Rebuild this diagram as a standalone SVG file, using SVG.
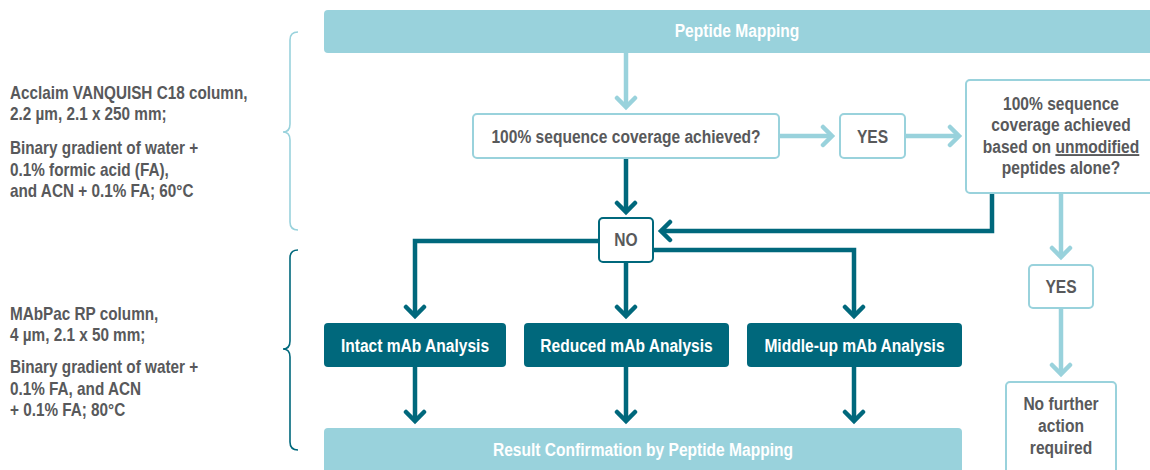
<svg xmlns="http://www.w3.org/2000/svg" width="1150" height="470" viewBox="0 0 1150 470">
<style>
text{font-family:"Liberation Sans",Arial,sans-serif;font-weight:bold;}
.side{font-size:18px;fill:#58595B;}
.lbl{font-size:19px;fill:#58595B;text-anchor:middle;}
.wlbl{font-size:19px;fill:#FFFFFF;text-anchor:middle;}
.bar{fill:#99D2DC;}
.dark{fill:#00687C;}
.qbox{fill:#FFFFFF;stroke:#99D2DC;stroke-width:2;}
.nobox{fill:#FFFFFF;stroke:#00687C;stroke-width:2;}
.cl{fill:none;stroke:#99D2DC;stroke-width:4.5;}
.cd{fill:none;stroke:#00687C;stroke-width:4.5;}
.brace-l{fill:none;stroke:#99D2DC;stroke-width:1.6;}
.brace-d{fill:none;stroke:#00687C;stroke-width:1.6;}
</style>
<defs>
<marker id="ahL" viewBox="-12 -12 16 24" markerWidth="16" markerHeight="24" refX="0" refY="0" orient="auto" markerUnits="userSpaceOnUse">
<path d="M-9,-9 L0,0 L-9,9" fill="none" stroke="#99D2DC" stroke-width="4.5" stroke-linecap="round"/>
</marker>
<marker id="ahD" viewBox="-12 -12 16 24" markerWidth="16" markerHeight="24" refX="0" refY="0" orient="auto" markerUnits="userSpaceOnUse">
<path d="M-9,-9 L0,0 L-9,9" fill="none" stroke="#00687C" stroke-width="4.5" stroke-linecap="round"/>
</marker>
</defs>

<g id="side-text-top">
<text class="side" transform="translate(10,99) scale(0.85,1)">Acclaim VANQUISH C18 column,</text>
<text class="side" transform="translate(10,120) scale(0.85,1)">2.2 µm, 2.1 x 250 mm;</text>
<text class="side" transform="translate(10,154) scale(0.85,1)">Binary gradient of water +</text>
<text class="side" transform="translate(10,176) scale(0.85,1)">0.1% formic acid (FA),</text>
<text class="side" transform="translate(10,197) scale(0.85,1)">and ACN + 0.1% FA; 60°C</text>
<path class="brace-l" d="M298,32 Q290,32 290,40 L290,124 Q290,132 283,132 Q290,132 290,140 L290,222 Q290,230 298,230"/>
</g>

<g id="side-text-bottom">
<text class="side" transform="translate(10,320) scale(0.85,1)">MAbPac RP column,</text>
<text class="side" transform="translate(10,341) scale(0.85,1)">4 µm, 2.1 x 50 mm;</text>
<text class="side" transform="translate(10,373) scale(0.85,1)">Binary gradient of water +</text>
<text class="side" transform="translate(10,395) scale(0.85,1)">0.1% FA, and ACN</text>
<text class="side" transform="translate(10,416) scale(0.85,1)">+ 0.1% FA; 80°C</text>
<path class="brace-d" d="M298,250 Q290,250 290,258 L290,341 Q290,349 283,349 Q290,349 290,357 L290,442 Q290,450 298,450"/>
</g>

<g id="connectors">
<line class="cl" x1="626" y1="53" x2="626" y2="107" marker-end="url(#ahL)"/>
<line class="cl" x1="779" y1="136" x2="832" y2="136" marker-end="url(#ahL)"/>
<line class="cl" x1="905" y1="136" x2="959" y2="136" marker-end="url(#ahL)"/>
<line class="cl" x1="1061" y1="193" x2="1061" y2="257" marker-end="url(#ahL)"/>
<line class="cl" x1="1061" y1="308" x2="1061" y2="374" marker-end="url(#ahL)"/>
<line class="cd" x1="626" y1="158" x2="626" y2="212" marker-end="url(#ahD)"/>
<polyline class="cd" points="992,193 992,231 661,231" marker-end="url(#ahD)"/>
<polyline class="cd" points="599,241 415,241 415,316" marker-end="url(#ahD)"/>
<line class="cd" x1="626" y1="262" x2="626" y2="316" marker-end="url(#ahD)"/>
<polyline class="cd" points="653,250 854,250 854,316" marker-end="url(#ahD)"/>
<line class="cd" x1="415" y1="367" x2="415" y2="421" marker-end="url(#ahD)"/>
<line class="cd" x1="626" y1="367" x2="626" y2="421" marker-end="url(#ahD)"/>
<line class="cd" x1="854" y1="367" x2="854" y2="421" marker-end="url(#ahD)"/>
</g>

<g id="peptide-mapping">
<rect class="bar" x="324" y="10" width="840" height="43" rx="4"/>
<text class="wlbl" transform="translate(737,37) scale(0.82,1)">Peptide Mapping</text>
</g>

<g id="q1">
<rect class="qbox" x="473" y="114" width="306" height="44" rx="4"/>
<text class="lbl" transform="translate(626,143) scale(0.82,1)">100% sequence coverage achieved?</text>
</g>

<g id="yes1">
<rect class="qbox" x="840" y="114" width="65" height="44" rx="4"/>
<text class="lbl" transform="translate(872.5,143) scale(0.82,1)">YES</text>
</g>

<g id="q2">
<rect class="qbox" x="966" y="80" width="200" height="113" rx="4"/>
<text class="lbl" transform="translate(1061,110) scale(0.82,1)">100% sequence</text>
<text class="lbl" transform="translate(1061,131) scale(0.82,1)">coverage achieved</text>
<text class="lbl" transform="translate(1061,153) scale(0.82,1)">based on <tspan text-decoration="underline">unmodified</tspan></text>
<text class="lbl" transform="translate(1061,174) scale(0.82,1)">peptides alone?</text>
</g>

<g id="no">
<rect class="nobox" x="599" y="218" width="54" height="44" rx="4"/>
<text class="lbl" transform="translate(626,246) scale(0.82,1)">NO</text>
</g>

<g id="yes2">
<rect class="qbox" x="1029" y="265" width="64" height="43" rx="4"/>
<text class="lbl" transform="translate(1061,293) scale(0.82,1)">YES</text>
</g>

<g id="no-further">
<rect class="qbox" x="1006" y="382" width="110" height="100" rx="4"/>
<text class="lbl" transform="translate(1061,410) scale(0.82,1)">No further</text>
<text class="lbl" transform="translate(1061,432) scale(0.82,1)">action</text>
<text class="lbl" transform="translate(1061,454) scale(0.82,1)">required</text>
</g>

<g id="intact">
<rect class="dark" x="324" y="323" width="182" height="44" rx="4"/>
<text class="wlbl" transform="translate(415,352) scale(0.82,1)">Intact mAb Analysis</text>
</g>

<g id="reduced">
<rect class="dark" x="524" y="323" width="205" height="44" rx="4"/>
<text class="wlbl" transform="translate(626.5,352) scale(0.82,1)">Reduced mAb Analysis</text>
</g>

<g id="middle-up">
<rect class="dark" x="747" y="323" width="215" height="44" rx="4"/>
<text class="wlbl" transform="translate(854.5,352) scale(0.82,1)">Middle-up mAb Analysis</text>
</g>

<g id="result">
<rect class="bar" x="324" y="428" width="638" height="52" rx="4"/>
<text class="wlbl" transform="translate(643,456) scale(0.82,1)">Result Confirmation by Peptide Mapping</text>
</g>
</svg>
